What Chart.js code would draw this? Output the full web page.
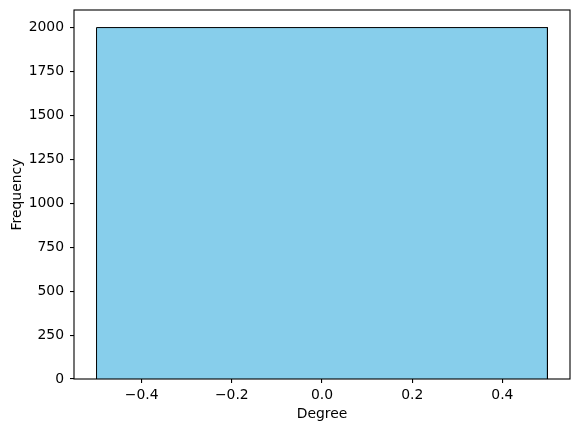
<!DOCTYPE html>
<html>
<head>
<meta charset="utf-8">
<script src="https://cdn.jsdelivr.net/npm/chart.js@4.4.1/dist/chart.umd.min.js"></script>
<style>
    html, body { margin: 0; padding: 0; background: #fff; }
    #wrap { width: 580px; height: 432px; }
</style>
</head>
<body>
<div id="wrap"><canvas id="histChart" width="580" height="432"></canvas></div>
<script>
// histogram data: bin edges and counts
const binEdges = [-0.5, 0.5];
const counts = [2000];

// tick labels
const xTicks = [-0.4, -0.2, 0.0, 0.2, 0.4];
const yTicks = [0, 250, 500, 750, 1000, 1250, 1500, 1750, 2000];

const xRange = [-0.55, 0.55];
const yRange = [0, 2100];

document.addEventListener('DOMContentLoaded', function() {
    const ctx = document.getElementById('histChart').getContext('2d');

    // build the step outline of the histogram from the bins
    const outline = [];
    for (let i = 0; i < counts.length; i++) {
        outline.push({x: binEdges[i], y: 0});
        outline.push({x: binEdges[i], y: counts[i]});
        outline.push({x: binEdges[i + 1], y: counts[i]});
        outline.push({x: binEdges[i + 1], y: 0});
    }

    const tickFont = {family: 'DejaVu Sans', size: 13.9};

    // draw the full box around the plot area
    const framePlugin = {
        id: 'frame',
        afterDraw(chart) {
            const a = chart.chartArea;
            const c = chart.ctx;
            c.save();
            c.strokeStyle = '#000';
            c.lineWidth = 1.1;
            c.strokeRect(a.left, a.top, a.right - a.left, a.bottom - a.top);
            c.restore();
        }
    };

    function minusSign(v) {
        return v.toFixed(1).replace('-', '\u2212');
    }

    new Chart(ctx, {
        type: 'line',
        data: {
            datasets: [{
                label: 'Degree',
                data: outline,
                borderColor: '#000',
                borderWidth: 1,
                backgroundColor: '#87CEEB',
                fill: 'origin',
                pointRadius: 0,
                tension: 0
            }]
        },
        options: {
            responsive: false,
            animation: false,
            layout: {padding: {left: 0, top: 10, right: 10, bottom: 0}},
            plugins: {
                legend: {display: false},
                tooltip: {enabled: false}
            },
            scales: {
                x: {
                    type: 'linear',
                    min: xRange[0],
                    max: xRange[1],
                    afterBuildTicks: function(scale) {
                        scale.ticks = xTicks.map(v => ({value: v}));
                    },
                    afterFit: function(scale) {
                        scale.height = 53;
                        scale.paddingLeft = 0;
                        scale.paddingRight = 0;
                    },
                    grid: {drawOnChartArea: false, drawTicks: true, tickLength: 4, color: '#000', lineWidth: 1.1},
                    border: {display: false},
                    ticks: {
                        color: '#000',
                        font: tickFont,
                        padding: 4,
                        maxRotation: 0,
                        autoSkip: false,
                        callback: function(value) { return minusSign(value); }
                    },
                    title: {display: true, text: 'Degree', color: '#000', font: tickFont, padding: {top: 0, bottom: 9}}
                },
                y: {
                    type: 'linear',
                    min: yRange[0],
                    max: yRange[1],
                    afterBuildTicks: function(scale) {
                        scale.ticks = yTicks.map(v => ({value: v}));
                    },
                    afterFit: function(scale) {
                        scale.width = 74;
                        scale.paddingTop = 0;
                        scale.paddingBottom = 0;
                    },
                    grid: {drawOnChartArea: false, drawTicks: true, tickLength: 4, color: '#000', lineWidth: 1.1},
                    border: {display: false},
                    ticks: {
                        color: '#000',
                        font: tickFont,
                        padding: 6,
                        autoSkip: false,
                        callback: function(value) { return String(value); }
                    },
                    title: {display: true, text: 'Frequency', color: '#000', font: tickFont, padding: {top: 9, bottom: 0}}
                }
            }
        },
        plugins: [framePlugin]
    });
});
</script>
</body>
</html>
